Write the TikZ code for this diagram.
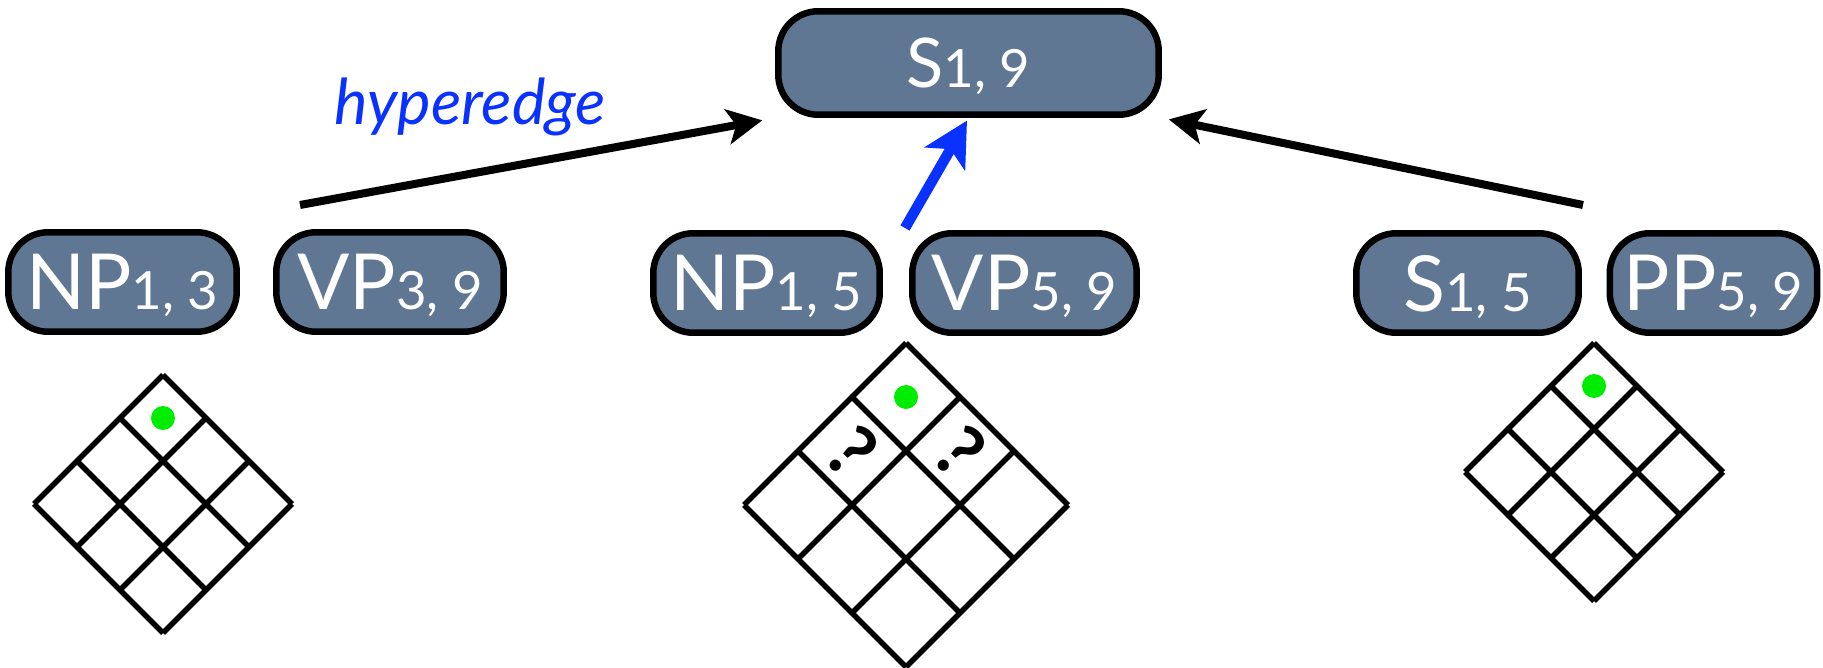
\documentclass[tikz,border=0pt]{standalone}
\usepackage{fontspec}
\setmainfont{Lato}
\usetikzlibrary{arrows.meta}

\definecolor{slate}{RGB}{96,119,148}
\definecolor{edgeblue}{RGB}{10,50,255}
\definecolor{hitgreen}{RGB}{0,236,0}

% category with its span set smaller on the baseline
\newcommand{\spanlabel}[2]{#1{\fontsize{30}{30}\selectfont #2}}

\tikzset{
  every node/.style={
    font=\fontsize{44}{44}\selectfont
  },
  chunk/.style={
    shape=rectangle,
    rounded corners=0.8cm,
    draw=black,
    line width=0.13cm,
    fill=slate,
    text=white,
    minimum width=#1,
    minimum height=1.99cm,
    text depth=0pt,
    inner sep=0pt
  },
  goal/.style={
    chunk=7.61cm,
    minimum height=2.07cm,
    font=\fontsize{39}{39}\selectfont
  },
  link/.style={
    -{Stealth[length=0.7cm,width=0.7cm,inset=0.17cm]},
    line width=0.16cm
  },
  hyper/.style={
    -{Stealth[length=0.88cm,width=0.92cm,inset=0.22cm]},
    line width=0.21cm,
    draw=edgeblue
  },
  gridline/.style={
    line width=0.11cm,
    line join=miter
  },
  query/.style={
    font=\fontsize{42}{42}\selectfont\bfseries,
    inner sep=0pt
  },
  pics/chart/.style={
    code={
      \foreach \k in {0,...,3} {
        \draw[gridline] (-\k*#1,\k*#1) -- ++(3*#1,3*#1);
        \draw[gridline] (\k*#1,\k*#1) -- ++(-3*#1,3*#1);
      }
      \fill[hitgreen] (0,#1) circle (0.24cm);
    }
  }
}

\begin{document}
\begin{tikzpicture}[x=0.02cm,y=-0.02cm]
  \useasboundingbox (0,0) rectangle (1823,668);

  % goal item
  \node [goal] (s19) at (968.5,63) {\spanlabel{S}{1, 9}};

  % antecedent pairs
  \node [chunk=4.57cm] (np13) at (122.5,282) {\spanlabel{NP}{1, 3}};
  \node [chunk=4.55cm] (vp39) at (390,282)   {\spanlabel{VP}{3, 9}};
  \node [chunk=4.53cm] (np15) at (766.5,283) {\spanlabel{NP}{1, 5}};
  \node [chunk=4.49cm] (vp59) at (1024.5,283) {\spanlabel{VP}{5, 9}};
  \node [chunk=4.45cm] (s15)  at (1467.5,283) {\spanlabel{S}{1, 5}};
  \node [chunk=4.15cm] (pp59) at (1713.5,283) {\spanlabel{PP}{5, 9}};

  % tails of the incoming edges
  \coordinate (left tail)  at (300,205);
  \coordinate (mid tail)   at (905,228);
  \coordinate (right tail) at (1583,205);

  \draw [link, shorten >=0.26cm] (left tail) -- (s19.south west);
  \draw [link, shorten >=0.14cm] (right tail) -- (s19.south east);
  \draw [hyper, shorten >=0.06cm] (mid tail) -- (s19.south);

  \node [text=edgeblue, font=\fontsize{36}{36}\selectfont\itshape, anchor=base]
    (tag) at (470,125) {hyperedge};

  % charts under each pair
  \pic (lchart) at (163,375) {chart=43};
  \pic (mchart) at (906,343) {chart=54};
  \pic (rchart) at (1594,343) {chart=43};

  \node [query, rotate=-45] (q1) at (852,452) {?};
  \node [query, rotate=-45] (q2) at (960,452) {?};
\end{tikzpicture}
\end{document}
